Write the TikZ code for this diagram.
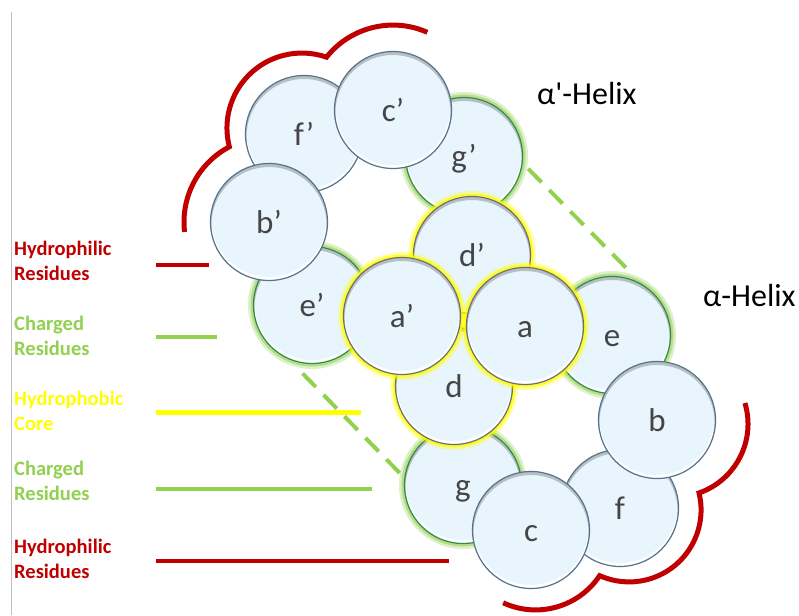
\documentclass[tikz,border=0pt]{standalone}
\usepackage{fontspec}
\setmainfont{Carlito}
\newfontfamily\helixfont{Carlito}
\usetikzlibrary{calc}
\definecolor{resfill}{HTML}{E9F5FC}
\definecolor{resline}{HTML}{56718C}
\definecolor{labelgray}{HTML}{454545}
\definecolor{hred}{HTML}{C00000}
\definecolor{cgreen}{HTML}{92D050}
\definecolor{dgreen}{HTML}{2F8A4A}
\definecolor{cyellow}{HTML}{FFFF00}
\definecolor{coreline}{HTML}{6E6E6E}
\definecolor{axisgray}{HTML}{BFBFBF}
\begin{document}
\begin{tikzpicture}[x=1pt,y=1pt,yscale=-1,
  res/.style={circle, minimum size=117pt, inner sep=0pt, fill=resfill, draw=resline,
    line width=1.2pt, text=labelgray, font=\fontsize{33}{35}\selectfont,
    text height=23pt, text depth=0pt,
    path picture={
      \draw[white, line width=3pt, draw opacity=.95]
        ($(path picture bounding box.center)+(0,2.5)$) circle[radius=59];
      \draw[black, line width=3pt, draw opacity=.22]
        ($(path picture bounding box.center)+(0,-2.5)$) circle[radius=59];}},
  philic/.style={res},
  charged/.style={res, draw=dgreen,
    preaction={draw=cgreen, draw opacity=.3, line width=11pt},
    preaction={draw=cgreen, draw opacity=.55, line width=6pt}},
  core/.style={res, draw=coreline,
    preaction={draw=cyellow, draw opacity=.3, line width=11pt},
    preaction={draw=cyellow, draw opacity=.75, line width=6pt}},
  dashline/.style={draw=cgreen, line width=4pt, dash pattern=on 19pt off 11pt},
  bracket/.style={draw=hred, line width=5pt},
  legend/.style={anchor=west, align=left, inner sep=0pt,
    font=\bfseries\fontsize{20.5}{25}\selectfont},
  helix/.style={anchor=base west, inner sep=0pt, text=black,
    font=\helixfont\fontsize{32}{34}\selectfont}
]
\useasboundingbox (0,0) rectangle (799,615);
\fill[white] (0,0) rectangle (799,615);
\draw[axisgray, line width=1pt] (11,12) -- (11,615);

% residues, back to front
\node[charged] (gp) at (464,156) {g’};
\node[philic]  (fp) at (304,134) {f’};
\node[philic]  (cp) at (393,110) {c’};
\node[charged] (ep) at (312,305) {e’};
\node[philic]  (bp) at (269,222) {b’};
\node[core]    (dp) at (472,255) {d’};
\node[charged] (e)  at (612,335) {e};
\node[charged] (g)  at (463,485) {g};
\node[core]    (d)  at (454,386) {d};
\node[core]    (ap) at (402,316) {a’};
\node[core]    (a)  at (525,326) {a};
\node[philic]  (f)  at (620,508) {f};
\node[philic]  (c)  at (531,530) {c};
\node[philic]  (b)  at (657,420) {b};

% dashed helix connectors
\draw[dashline, shorten <=7.8pt, shorten >=20pt] (gp.-7) -- (e.59);
\draw[dashline, shorten <=19.6pt, shorten >=3.5pt] (ep.247) -- (g.173);

% hydrophilic brackets
\draw[bracket] (269,222) ++(173.3:85) arc[start angle=173.3, end angle=242.2, radius=85]
  arc[start angle=165.5, end angle=289.1, radius=75]
  arc[start angle=218.5, end angle=293.8, radius=85];
\draw[bracket] (675,424) ++(-16.7:73) arc[start angle=-16.7, end angle=70.8, radius=73]
  arc[start angle=-13.65, end angle=114.1, radius=72]
  arc[start angle=33.7, end angle=114.9, radius=77];

% helix labels
\node[helix] (lhp) at (537,104) {α'-Helix};
\node[helix] (lh)  at (703,306) {α-Helix};

% legend
\node[legend, text=hred]    (t1) at (14,260.5) {Hydrophilic\\Residues};
\node[legend, text=cgreen]  (t2) at (14,335.5) {Charged\\Residues};
\node[legend, text=cyellow] (t3) at (14,410.5) {Hydrophobic\\Core};
\node[legend, text=cgreen]  (t4) at (14,480.5) {Charged\\Residues};
\node[legend, text=hred]    (t5) at (14,558.5) {Hydrophilic\\Residues};
\draw[hred, line width=4pt]    (156,265) -- (209,265);
\draw[cgreen, line width=4pt]  (156,337) -- (217,337);
\draw[cyellow, line width=5pt] (156,412) -- (361,412);
\draw[cgreen, line width=4pt]  (156,489) -- (372,489);
\draw[hred, line width=4pt]    (156,561) -- (449,561);
\end{tikzpicture}
\end{document}
